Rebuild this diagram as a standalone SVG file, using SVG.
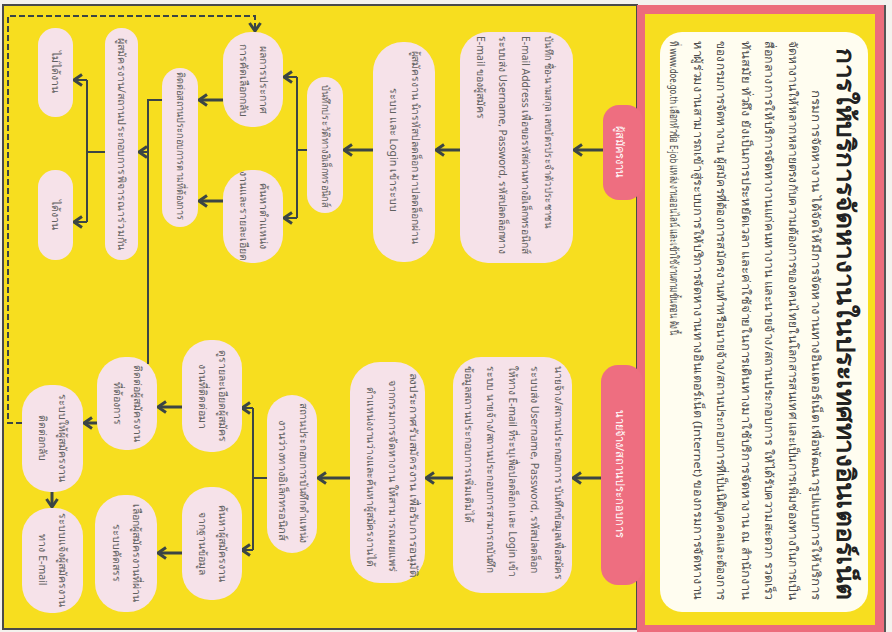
<svg xmlns="http://www.w3.org/2000/svg" width="892" height="632" viewBox="0 0 892 632">
<style>
.bx{fill:#F6E2E9}
.pl{fill:#EE6E80}
.t{font-family:"Noto Sans","DejaVu Sans",sans-serif}
.bt{font-size:10.5px;fill:#606060}
.pt{font-size:11px;fill:#ffffff}
.ttl{font-size:25px;font-weight:bold;fill:#222222}
.bd{font-size:11.5px;fill:#4a4a4a}
.ar{fill:none;stroke:#3b4545;stroke-width:3;marker-end:url(#ah)}
.br{fill:none;stroke:#3b4545;stroke-width:2}
.ba{fill:none;stroke:#3b4545;stroke-width:2;marker-end:url(#ah)}
.ds{fill:none;stroke:#3b4545;stroke-width:2;stroke-dasharray:6 3;marker-end:url(#ah)}
</style>
<defs>
<marker id="ah" markerUnits="userSpaceOnUse" markerWidth="14" markerHeight="14" viewBox="0 0 14 14" refX="12" refY="7" orient="auto">
<path d="M4,1.5 L12,7 L4,12.5" fill="none" stroke="#3b4545" stroke-width="3" stroke-linejoin="miter"/>
</marker>
</defs>
<rect x="0" y="0" width="892" height="632" fill="#f4f2ee"/>
<rect x="3" y="5" width="634" height="624" fill="#F7DE1F" stroke="#4a4a4a" stroke-width="2"/>
<g id="panel">
<rect x="637" y="5" width="247" height="627" fill="#EC6C7C"/>
<line x1="885" y1="5" x2="885" y2="632" stroke="#555" stroke-width="2"/>
<rect x="645" y="14" width="230" height="611" fill="#F7DE1F"/>
<rect x="660" y="32" width="208" height="580" rx="22" fill="#FFFDF0"/>
<text class="t ttl" transform="translate(837 48) rotate(90)" textLength="552" lengthAdjust="spacingAndGlyphs">การให้บริการจัดหางานในประเทศทางอินเตอร์เน็ต</text>
<text class="t bd" transform="translate(812 90) rotate(90)" textLength="510" lengthAdjust="spacingAndGlyphs">กรมการจัดหางาน ได้จัดให้มีการจัดหางานทางอินเตอร์เน็ต เพื่อพัฒนารูปแบบการให้บริการ</text>
<text class="t bd" transform="translate(789 41) rotate(90)" textLength="559" lengthAdjust="spacingAndGlyphs">จัดหางานให้หลากหลายตรงกับความต้องการของคนไทยในโลกสารสนเทศ และเป็นการเพิ่มช่องทางในการเป็น</text>
<text class="t bd" transform="translate(765 41) rotate(90)" textLength="559" lengthAdjust="spacingAndGlyphs">สื่อกลางการให้บริการจัดหางานแก่คนหางาน และนายจ้าง/สถานประกอบการ ให้ได้รับความสะดวก รวดเร็ว</text>
<text class="t bd" transform="translate(742 41) rotate(90)" textLength="559" lengthAdjust="spacingAndGlyphs">ทันสมัย ทั่วถึง ยังเป็นการประหยัดเวลา และค่าใช้จ่ายในการเดินทางมาใช้บริการจัดหางาน ณ สำนักงาน</text>
<text class="t bd" transform="translate(717 41) rotate(90)" textLength="559" lengthAdjust="spacingAndGlyphs">ของกรมการจัดหางาน ผู้สมัครที่ต้องการสมัครงานทำหรือนายจ้าง/สถานประกอบการที่เป็นนิติบุคคลและต้องการ</text>
<text class="t bd" transform="translate(694 41) rotate(90)" textLength="559" lengthAdjust="spacingAndGlyphs">หาผู้ร่วมงานสามารถเข้าสู่ระบบการให้บริการจัดหางานทางอินเตอร์เน็ต (Internet) ของกรมการจัดหางาน</text>
<text class="t bd" transform="translate(670 41) rotate(90)" textLength="294" lengthAdjust="spacingAndGlyphs">ที่ www.doe.go.th เลือกหัวข้อ E-job แหล่งงานออนไลน์ และเข้าใช้งานตามขั้นตอน ดังนี้</text>
</g>
<g id="connectors">
<path class="ar" d="M603,150 H574"/>
<path class="ar" d="M460,150 H436"/>
<path class="ar" d="M373,150 H344"/>
<path class="br" d="M307,150 H297 M297,77 V218"/>
<path class="ba" d="M297,77 H284"/>
<path class="ba" d="M297,218 H284"/>
<path class="ar" d="M223,100 H199"/>
<path class="ar" d="M223,201 H199"/>
<path class="br" d="M162,100 H148 V364"/>
<path class="ba" d="M148,152 H139"/>
<path class="br" d="M105,152 H87 M87,80 V222"/>
<path class="ba" d="M87,80 H74"/>
<path class="ba" d="M87,222 H74"/>
<path class="ar" d="M601,478 H573"/>
<path class="ar" d="M453,478 H426"/>
<path class="ar" d="M350,478 H318"/>
<path class="br" d="M267,478 H253 M253,408 V550"/>
<path class="ba" d="M253,408 H242"/>
<path class="ba" d="M253,550 H242"/>
<path class="ar" d="M182,407 H158"/>
<path class="ar" d="M182,553 H158"/>
<path class="ar" d="M97,423 H84"/>
<path class="ar" d="M52,492 V507"/>
<path class="ds" d="M22,423 H8 V16 H255 V31"/>
</g>
<g id="pill-applicant">
<rect class="pl" x="603" y="105" width="40" height="95" rx="16"/>
<text class="t pt" text-anchor="middle" transform="translate(616 152) rotate(90)">ผู้สมัครงาน</text>
</g>
<g id="pill-employer">
<rect class="pl" x="601" y="365" width="42" height="220" rx="17"/>
<text class="t pt" text-anchor="middle" transform="translate(616 474) rotate(90)">นายจ้าง/สถานประกอบการ</text>
</g>
<g id="box-a">
<rect class="bx" x="460" y="32" width="113" height="231" rx="28"/>
<text class="t bt" transform="translate(545 36) rotate(90)" textLength="192" lengthAdjust="spacingAndGlyphs">บันทึก ชื่อ-นามสกุล เลขบัตรประจำตัวประชาชน</text>
<text class="t bt" transform="translate(522 36) rotate(90)" textLength="218" lengthAdjust="spacingAndGlyphs">E-mail Address เพื่อขอรหัสผ่านทางอิเล็กทรอนิกส์</text>
<text class="t bt" transform="translate(499 36) rotate(90)" textLength="218" lengthAdjust="spacingAndGlyphs">ระบบส่ง Username, Password, รหัสปลดล็อกทาง</text>
<text class="t bt" transform="translate(477 36) rotate(90)">E-mail ของผู้สมัคร</text>
</g>
<g id="box-b">
<rect class="bx" x="373" y="42" width="62" height="220" rx="30"/>
<text class="t bt" text-anchor="middle" transform="translate(412 147) rotate(90)" textLength="193" lengthAdjust="spacingAndGlyphs">ผู้สมัครงาน นำรหัสปลดล็อก มาปลดล็อกผ่าน</text>
<text class="t bt" text-anchor="middle" transform="translate(390 150) rotate(90)">ระบบ และ Login เข้าระบบ</text>
</g>
<g id="box-c">
<rect class="bx" x="307" y="77" width="36" height="136" rx="18"/>
<text class="t bt" text-anchor="middle" transform="translate(322 146) rotate(90)" textLength="122" lengthAdjust="spacingAndGlyphs">บันทึกประวัติทางอิเล็กทรอนิกส์</text>
</g>
<g id="box-d">
<rect class="bx" x="223" y="32" width="60" height="95" rx="28"/>
<text class="t bt" text-anchor="middle" transform="translate(260 80) rotate(90)">ผลการประกาศ</text>
<text class="t bt" text-anchor="middle" transform="translate(240 80) rotate(90)">การคัดเลือกกลับ</text>
</g>
<g id="box-e">
<rect class="bx" x="223" y="170" width="60" height="93" rx="28"/>
<text class="t bt" text-anchor="middle" transform="translate(260 216) rotate(90)">ค้นหาตำแหน่ง</text>
<text class="t bt" text-anchor="middle" transform="translate(240 216) rotate(90)">งานและรายละเอียด</text>
</g>
<g id="box-f">
<rect class="bx" x="162" y="68" width="36" height="159" rx="18"/>
<text class="t bt" text-anchor="middle" transform="translate(177 146) rotate(90)" textLength="148" lengthAdjust="spacingAndGlyphs">ติดต่อสถานประกอบการตามที่ต้องการ</text>
</g>
<g id="box-g">
<rect class="bx" x="105" y="28" width="33" height="232" rx="16"/>
<text class="t bt" text-anchor="middle" transform="translate(118 144) rotate(90)" textLength="212" lengthAdjust="spacingAndGlyphs">ผู้สมัครงาน/สถานประกอบการพิจารณาร่วมกัน</text>
</g>
<g id="box-h">
<rect class="bx" x="38" y="28" width="35" height="89" rx="17"/>
<text class="t bt" text-anchor="middle" transform="translate(52 72) rotate(90)">ไม่ได้งาน</text>
</g>
<g id="box-i">
<rect class="bx" x="38" y="170" width="35" height="90" rx="17"/>
<text class="t bt" text-anchor="middle" transform="translate(52 215) rotate(90)">ได้งาน</text>
</g>
<g id="box-p">
<rect class="bx" x="453" y="357" width="119" height="236" rx="28"/>
<text class="t bt" transform="translate(555 366) rotate(90)" textLength="214" lengthAdjust="spacingAndGlyphs">นายจ้าง/สถานประกอบการ บันทึกข้อมูลเพื่อสมัคร</text>
<text class="t bt" transform="translate(531 366) rotate(90)" textLength="207" lengthAdjust="spacingAndGlyphs">ระบบส่ง Username, Password, รหัสปลดล็อก</text>
<text class="t bt" transform="translate(509 366) rotate(90)" textLength="211" lengthAdjust="spacingAndGlyphs">ให้ทาง E-mail ที่ระบุเพื่อปลดล็อก และ Login เข้า</text>
<text class="t bt" transform="translate(487 366) rotate(90)" textLength="207" lengthAdjust="spacingAndGlyphs">ระบบ นายจ้าง/สถานประกอบการสามารถบันทึก</text>
<text class="t bt" transform="translate(465 366) rotate(90)" textLength="157" lengthAdjust="spacingAndGlyphs">ข้อมูลสถานประกอบการเพิ่มเติมได้</text>
</g>
<g id="box-q">
<rect class="bx" x="350" y="362" width="75" height="221" rx="30"/>
<text class="t bt" text-anchor="middle" transform="translate(410 475) rotate(90)" textLength="205" lengthAdjust="spacingAndGlyphs">ลงประกาศรับสมัครงาน เพื่อรับการอนุมัติ</text>
<text class="t bt" text-anchor="middle" transform="translate(389 476) rotate(90)" textLength="193" lengthAdjust="spacingAndGlyphs">จากกรมการจัดหางาน ให้สามารถเผยแพร่</text>
<text class="t bt" text-anchor="middle" transform="translate(367 477) rotate(90)" textLength="180" lengthAdjust="spacingAndGlyphs">ตำแหน่งงานว่างและค้นหาผู้สมัครงานได้</text>
</g>
<g id="box-r">
<rect class="bx" x="267" y="395" width="50" height="158" rx="25"/>
<text class="t bt" text-anchor="middle" transform="translate(300 473) rotate(90)" textLength="140" lengthAdjust="spacingAndGlyphs">สถานประกอบการบันทึกตำแหน่ง</text>
<text class="t bt" text-anchor="middle" transform="translate(279 480) rotate(90)" textLength="120" lengthAdjust="spacingAndGlyphs">งานว่างทางอิเล็กทรอนิกส์</text>
</g>
<g id="box-s">
<rect class="bx" x="182" y="340" width="60" height="112" rx="28"/>
<text class="t bt" text-anchor="middle" transform="translate(219 396) rotate(90)">ดูรายละเอียดผู้สมัคร</text>
<text class="t bt" text-anchor="middle" transform="translate(199 396) rotate(90)">งานที่ติดต่อมา</text>
</g>
<g id="box-t">
<rect class="bx" x="182" y="487" width="60" height="113" rx="28"/>
<text class="t bt" text-anchor="middle" transform="translate(219 543) rotate(90)">ค้นหาผู้สมัครงาน</text>
<text class="t bt" text-anchor="middle" transform="translate(199 543) rotate(90)">จากฐานข้อมูล</text>
</g>
<g id="box-k">
<rect class="bx" x="97" y="357" width="60" height="93" rx="28"/>
<text class="t bt" text-anchor="middle" transform="translate(134 403) rotate(90)">ติดต่อผู้สมัครงาน</text>
<text class="t bt" text-anchor="middle" transform="translate(114 403) rotate(90)">ที่ต้องการ</text>
</g>
<g id="box-n">
<rect class="bx" x="95" y="495" width="62" height="117" rx="29"/>
<text class="t bt" text-anchor="middle" transform="translate(133 553) rotate(90)">เลือกผู้สมัครงานที่ผ่าน</text>
<text class="t bt" text-anchor="middle" transform="translate(113 553) rotate(90)">ระบบคัดสรร</text>
</g>
<g id="box-l">
<rect class="bx" x="22" y="385" width="61" height="107" rx="28"/>
<text class="t bt" text-anchor="middle" transform="translate(59 438) rotate(90)">ระบบให้ผู้สมัครงาน</text>
<text class="t bt" text-anchor="middle" transform="translate(39 438) rotate(90)">ติดต่อกลับ</text>
</g>
<g id="box-m">
<rect class="bx" x="22" y="508" width="61" height="105" rx="28"/>
<text class="t bt" text-anchor="middle" transform="translate(59 560) rotate(90)">ระบบแจ้งผู้สมัครงาน</text>
<text class="t bt" text-anchor="middle" transform="translate(39 560) rotate(90)">ทาง E-mail</text>
</g>
</svg>
